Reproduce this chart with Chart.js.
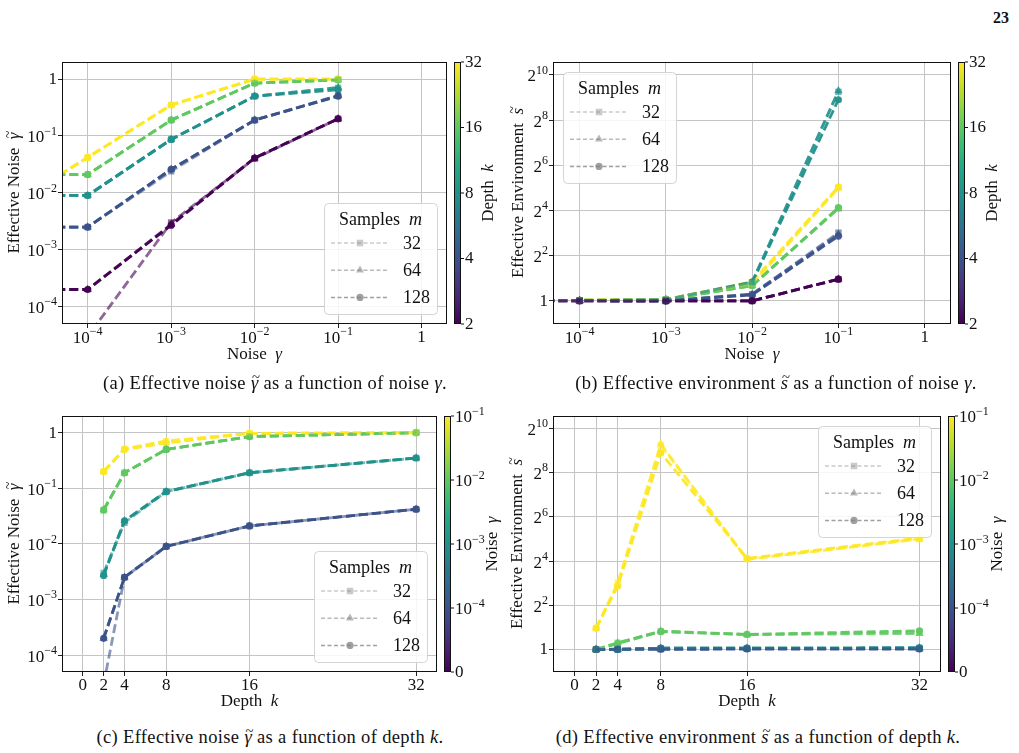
<!DOCTYPE html>
<html><head><meta charset="utf-8">
<script src="https://cdn.jsdelivr.net/npm/chart.js@4.4.1/dist/chart.umd.min.js"></script>
<style>
html,body{margin:0;padding:0;background:#fff;}
body{width:1019px;height:753px;position:relative;overflow:hidden;font-family:"Liberation Serif","DejaVu Serif",serif;color:#111;}
canvas{position:absolute;}
.cap{position:absolute;font-size:18.5px;letter-spacing:0.35px;white-space:nowrap;transform:translate(-50%,-50%);}
.tl{position:relative;font-style:italic;}
.tl::after{content:"~";position:absolute;left:0.08em;top:-0.3em;font-size:0.8em;font-style:normal;}
#pg{position:absolute;left:993px;top:9px;font-weight:bold;font-size:16px;}
</style></head><body>
<div id="pg">23</div>
<canvas id="ca" width="505" height="330" style="left:0;top:40px"></canvas>
<canvas id="cb" width="514" height="330" style="left:505px;top:40px"></canvas>
<canvas id="cc" width="505" height="315" style="left:0;top:400px"></canvas>
<canvas id="cd" width="514" height="315" style="left:505px;top:400px"></canvas>
<div class="cap" style="left:275px;top:383px">(a) Effective noise <span class="tl">γ</span> as a function of noise <i>γ</i>.</div>
<div class="cap" style="left:776px;top:383px">(b) Effective environment <span class="tl">s</span> as a function of noise <i>γ</i>.</div>
<div class="cap" style="left:270px;top:737px">(c) Effective noise <span class="tl">γ</span> as a function of depth <i>k</i>.</div>
<div class="cap" style="left:758px;top:737px">(d) Effective environment <span class="tl">s</span> as a function of depth <i>k</i>.</div>
<script>
// ---------------- data ----------------
const ks = [2, 4, 8, 16, 32];                    // depth k
const samples = [32, 64, 128];                   // samples m
// noise levels; first entry = noise-free run, drawn one decade left of 1e-4 (outside the axis range)
const noiseLevels = [1e-5, 1e-4, 1e-3, 1e-2, 1e-1];
const noiseTicks = [1e-4, 1e-3, 1e-2, 1e-1, 1];
const depthTicks = [0, 2, 4, 8, 16, 32];
const effNoiseTicks = [1e-4, 1e-3, 1e-2, 1e-1, 1];
const effEnvTicks = [1, 4, 16, 64, 256, 1024];
const depthBarTicks = [2, 4, 8, 16, 32];
const noiseBarTicks = [0, 1, 2, 3, 4];            // colour-bar positions
const noiseBarValues = [0, 1e-4, 1e-3, 1e-2, 1e-1]; // colour-bar tick labels

// effective noise (rows: k = 2,4,8,16,32 ; columns: noiseLevels)
const effNoise_m32 = [
  [3e-5, 3e-5, 0.0030, 0.040, 0.20],
  [0.0025, 0.0025, 0.024, 0.19, 0.51],
  [0.009, 0.009, 0.087, 0.50, 0.70],
  [0.021, 0.021, 0.19, 0.85, 0.97],
  [0.0052, 0.042, 0.35, 1.0, 1.0]];
const effNoise_m64 = [
  [2e-4, 2e-4, 0.0028, 0.041, 0.20],
  [0.0025, 0.0025, 0.026, 0.19, 0.51],
  [0.009, 0.009, 0.087, 0.50, 0.71],
  [0.021, 0.021, 0.19, 0.85, 0.97],
  [0.0052, 0.042, 0.35, 1.0, 1.0]];
const effNoise_m128 = [
  [2e-4, 2e-4, 0.0027, 0.041, 0.20],
  [0.0025, 0.0025, 0.026, 0.19, 0.50],
  [0.009, 0.009, 0.087, 0.50, 0.65],
  [0.021, 0.021, 0.19, 0.85, 0.97],
  [0.0052, 0.042, 0.35, 1.0, 1.0]];

// effective environment (rows: k ; columns: noiseLevels)
const effEnv_m32 = [
  [1, 1, 1.0, 1.0, 1.95],
  [1, 1.01, 1.0, 1.23, 8.1],
  [1, 1.01, 1.04, 1.78, 609],
  [1, 1.02, 1.04, 1.6, 17],
  [1, 1.02, 1.05, 1.72, 32]];
const effEnv_m64 = [
  [1, 1, 1.0, 1.0, 1.95],
  [1, 1.01, 1.0, 1.23, 7.7],
  [1, 1.01, 1.04, 1.78, 630],
  [1, 1.02, 1.04, 1.6, 17],
  [1, 1.02, 1.05, 1.65, 32]];
const effEnv_m128 = [
  [1, 1, 1.0, 1.0, 1.95],
  [1, 1.01, 1.0, 1.2, 7.3],
  [1, 1.01, 1.04, 1.75, 478],
  [1, 1.02, 1.04, 1.6, 17.5],
  [1, 1.02, 1.05, 1.8, 33]];

const effNoiseBySample = [effNoise_m32, effNoise_m64, effNoise_m128];
const effEnvBySample = [effEnv_m32, effEnv_m64, effEnv_m128];

// ---------------- styling helpers ----------------
const FONT = '"Liberation Serif", "DejaVu Serif", serif';
Chart.defaults.font.family = FONT;
Chart.defaults.font.size = 17;
Chart.defaults.color = '#111';

const VIR = ['#440154','#482475','#414487','#355f8d','#2a788e','#21918c','#22a884','#44bf70','#7ad151','#bddf26','#fde725'];
function hex(h){ return [1,3,5].map(i => parseInt(h.substr(i,2),16)); }
function viridis(t){
  t = Math.max(0, Math.min(1, t));
  const p = t*10, i = Math.min(9, Math.floor(p)), f = p - i;
  const a = hex(VIR[i]), b = hex(VIR[i+1]);
  return a.map((v,j) => Math.round(v + (b[j]-v)*f));
}
function rgba(c, a){ return `rgba(${c[0]},${c[1]},${c[2]},${a})`; }

const markerStyle = ['rect', 'triangle', 'circle'];
const markerRadius = [4.6, 4.8, 3.6];
const lineAlpha = [0.6, 0.8, 0.95];
const legendAlpha = [0.42, 0.55, 0.75];

const minus = n => (n < 0 ? '\u2212' + Math.abs(n) : String(n));
const pow10Segs = v => { const e = Math.round(Math.log10(v)); return e === 0 ? [{t:'1'}] : [{t:'10'},{t:minus(e), sup:true}]; };
const pow2Segs = v => { const e = Math.round(Math.log2(v)); return e === 0 ? [{t:'1'}] : [{t:'2'},{t:minus(e), sup:true}]; };
const plainSegs = v => [{t:String(v)}];
const noiseBarSegs = v => v === 0 ? [{t:'0'}] : pow10Segs(v);

const segFont = (s, size) => (s.i ? 'italic ' : '') + (s.sup ? Math.round(size*0.7) : size) + 'px ' + FONT;
function drawRich(ctx, segs, x, y, size, align){
  let w = 0;
  const widths = segs.map(s => { ctx.font = segFont(s, size); const m = ctx.measureText(s.t).width; w += m; return m; });
  let cx = align === 'right' ? x - w : (align === 'left' ? x : x - w/2);
  ctx.textAlign = 'left'; ctx.textBaseline = 'middle'; ctx.fillStyle = '#111';
  segs.forEach((s, i) => {
    ctx.font = segFont(s, size);
    const yy = s.sup ? y - size*0.38 : y;
    ctx.fillText(s.t, cx, yy);
    if (s.tilde){
      ctx.font = Math.round(size*0.8) + 'px ' + FONT;
      ctx.textAlign = 'center';
      ctx.fillText('~', cx + widths[i]/2 + size*0.08, y - size*0.33);
      ctx.textAlign = 'left';
    }
    cx += widths[i];
  });
}

function drawMarker(ctx, style, x, y, r){
  ctx.beginPath();
  if (style === 'circle'){ ctx.arc(x, y, r, 0, Math.PI*2); }
  else if (style === 'rect'){ const s = r*Math.SQRT1_2; ctx.rect(x-s, y-s, 2*s, 2*s); }
  else { const h = r*1.5, w = r*Math.sqrt(3); ctx.moveTo(x, y - r); ctx.lineTo(x + w/2, y + h - r); ctx.lineTo(x - w/2, y + h - r); ctx.closePath(); }
  ctx.fill();
}

function drawLegend(ctx, ca, corner){
  const w = 113, h = 111, ins = 10;
  const x = corner.includes('right') ? ca.right - ins - w : ca.left + ins;
  const y = corner.includes('lower') ? ca.bottom - ins - h : ca.top + ins;
  ctx.save();
  ctx.beginPath();
  if (ctx.roundRect) ctx.roundRect(x+0.5, y+0.5, w, h, 4); else ctx.rect(x+0.5, y+0.5, w, h);
  ctx.fillStyle = 'rgba(255,255,255,0.85)'; ctx.fill();
  ctx.strokeStyle = '#d4d4d4'; ctx.lineWidth = 1; ctx.stroke();
  drawRich(ctx, [{t:'Samples  '},{t:'m', i:true}], x + w/2, y + 17, 18);
  samples.forEach((m, i) => {
    const ry = y + 40 + i*27.2;
    const col = `rgba(128,128,128,${legendAlpha[i]})`;
    ctx.strokeStyle = col; ctx.lineWidth = 1.5; ctx.setLineDash([4, 2.5]);
    ctx.beginPath(); ctx.moveTo(x + 7, ry); ctx.lineTo(x + 64, ry); ctx.stroke();
    ctx.setLineDash([]);
    ctx.fillStyle = col;
    drawMarker(ctx, markerStyle[i], x + 36, ry, i === 2 ? 3.6 : 4.6);
    drawRich(ctx, [{t:String(m)}], x + 79, ry + 1, 18, 'left');
  });
  ctx.restore();
}

function buildPanel(id, P){
  const canvas = document.getElementById(id);
  const panelPlugin = {
    id: 'panel_' + id,
    afterDatasetsDraw(chart){
      const ctx = chart.ctx, ca = chart.chartArea;
      ctx.save();
      ctx.strokeStyle = '#111'; ctx.lineWidth = 1;
      ctx.strokeRect(Math.round(ca.left)+0.5, Math.round(ca.top)+0.5, Math.round(ca.right-ca.left)-1, Math.round(ca.bottom-ca.top)-1);
      ctx.restore();
    },
    afterDraw(chart){
      const ctx = chart.ctx, ca = chart.chartArea;
      const xs = chart.scales.x, ys = chart.scales.y;
      ctx.save();
      // tick labels
      xs.ticks.forEach(t => {
        const segs = P.xFmt(t.value);
        drawRich(ctx, segs, xs.getPixelForValue(t.value), ca.bottom + (segs.length > 1 ? 14.5 : 13.5), 17, 'center');
      });
      ys.ticks.forEach(t => {
        const segs = P.yFmt(t.value);
        drawRich(ctx, segs, ca.left - 5, ys.getPixelForValue(t.value) + (segs.length > 1 ? 2 : 0.5), 17, 'right');
      });
      // axis titles
      drawRich(ctx, P.xTitle, (ca.left + ca.right)/2, ca.bottom + P.xTitleOff, 17);
      ctx.translate(ca.left - P.yTitleOff, (ca.top + ca.bottom)/2);
      ctx.rotate(-Math.PI/2);
      drawRich(ctx, P.yTitle, 0, 0, 17);
      ctx.restore();
      drawLegend(ctx, ca, P.legendCorner);
      // colour bar
      const cb = chart.scales.cb;
      const x0 = Math.round(ca.right + P.cbGap), w = 7;
      const top = Math.round(cb.top), bot = Math.round(cb.bottom);
      ctx.save();
      const g = ctx.createLinearGradient(0, bot, 0, top);
      for (let i = 0; i <= 20; i++){ g.addColorStop(i/20, rgba(viridis(i/20), 1)); }
      ctx.fillStyle = g; ctx.fillRect(x0, top, w, bot - top);
      ctx.strokeStyle = '#111'; ctx.lineWidth = 1; ctx.strokeRect(x0 + 0.5, top + 0.5, w - 1, bot - top - 1);
      P.cbTicks.forEach((v, i) => {
        const py = cb.getPixelForValue(v);
        ctx.beginPath(); ctx.moveTo(x0 + w, py); ctx.lineTo(x0 + w + 3, py); ctx.stroke();
        const segs = P.cbFmt(P.cbLabelValues[i]);
        drawRich(ctx, segs, x0 + w + 4, py + (segs.length > 1 ? 2 : 0.5), 17, 'left');
      });
      ctx.translate(ca.right + P.cbTitleOff, (top + bot)/2);
      ctx.rotate(-Math.PI/2);
      drawRich(ctx, P.cbTitle, 0, 0, 17);
      ctx.restore();
    }
  };
  const grid = { color:'#c4c4c4', lineWidth:1, tickColor:'#222', tickLength:4, tickWidth:1 };
  return new Chart(canvas, {
    type: 'line',
    data: { datasets: P.datasets },
    options: {
      responsive: false, animation: false, devicePixelRatio: 1,
      layout: { padding: { left: 0, top: P.area.top, right: P.area.right, bottom: 0 } },
      plugins: { legend: { display: false }, tooltip: { enabled: false } },
      scales: {
        x: { type: P.xType, min: P.xMin, max: P.xMax, position: 'bottom',
             afterBuildTicks: s => { s.ticks = P.xTicks.map(v => ({ value: v })); },
             afterFit: s => { s.height = P.area.bottom; },
             ticks: { display: false, autoSkip: false, maxRotation: 0 },
             grid: grid, border: { display: false } },
        y: { type: 'logarithmic', min: P.yMin, max: P.yMax, position: 'left',
             afterBuildTicks: s => { s.ticks = P.yTicks.map(v => ({ value: v })); },
             afterFit: s => { s.width = P.area.left; },
             ticks: { display: false, autoSkip: false },
             grid: grid, border: { display: false } },
        cb: { type: P.cbType, axis: 'y', position: 'right', display: false, min: P.cbMin, max: P.cbMax }
      }
    },
    plugins: [panelPlugin]
  });
}

function lineDataset(points, color, mi){
  return {
    data: points,
    borderColor: rgba(color, lineAlpha[mi]),
    backgroundColor: rgba(color, lineAlpha[mi]),
    pointBackgroundColor: rgba(color, lineAlpha[mi]),
    pointBorderWidth: 0,
    borderWidth: 2.8,
    borderDash: [9, 4],
    pointStyle: markerStyle[mi],
    pointRadius: markerRadius[mi],
    tension: 0
  };
}

const depthColor = k => viridis(Math.log2(k/2)/4);
const noiseColor = gi => viridis(gi/4);   // gi = index in noiseLevels (1..4)

function byNoiseDatasets(tables){
  const out = [];
  samples.forEach((m, mi) => ks.forEach((k, ki) => {
    out.push(lineDataset(noiseLevels.map((g, gi) => ({ x: g, y: tables[mi][ki][gi] })), depthColor(k), mi));
  }));
  return out;
}
function byDepthDatasets(tables){
  const out = [];
  samples.forEach((m, mi) => [1,2,3,4].forEach(gi => {
    out.push(lineDataset(ks.map((k, ki) => ({ x: k, y: tables[mi][ki][gi] })), noiseColor(gi), mi));
  }));
  return out;
}

const depthBar = { cbType: 'logarithmic', cbMin: 2, cbMax: 32, cbTicks: depthBarTicks, cbLabelValues: depthBarTicks, cbFmt: plainSegs,
                   cbTitle: [{t:'Depth  '},{t:'k', i:true}] };
const noiseBar = { cbType: 'linear', cbMin: 0, cbMax: 4, cbTicks: noiseBarTicks, cbLabelValues: noiseBarValues, cbFmt: noiseBarSegs,
                   cbTitle: [{t:'Noise  '},{t:'γ', i:true}] };
const effNoiseY = { yMin: Math.pow(10, -4.305), yMax: Math.pow(10, 0.3), yTicks: effNoiseTicks, yFmt: pow10Segs,
                    yTitle: [{t:'Effective Noise  '},{t:'γ', i:true, tilde:true}] };
const effEnvY = { yMin: Math.pow(2, -1.02), yMax: Math.pow(2, 10.57), yTicks: effEnvTicks, yFmt: pow2Segs,
                  yTitle: [{t:'Effective Environment  '},{t:'s', i:true, tilde:true}] };
const noiseX = { xType: 'logarithmic', xMin: Math.pow(10, -4.308), xMax: Math.pow(10, 0.305), xTicks: noiseTicks, xFmt: pow10Segs,
                 xTitle: [{t:'Noise  '},{t:'γ', i:true}], xTitleOff: 31 };
const depthX = { xType: 'linear', xMin: -2, xMax: 34, xTicks: depthTicks, xFmt: plainSegs,
                 xTitle: [{t:'Depth  '},{t:'k', i:true}], xTitleOff: 29.5 };

buildPanel('ca', Object.assign({}, noiseX, effNoiseY, depthBar, {
  area: { left: 62, top: 22, right: 58, bottom: 46 }, yTitleOff: 47, cbGap: 6.5, cbTitleOff: 41.5,
  legendCorner: 'lower right', datasets: byNoiseDatasets(effNoiseBySample) }));
buildPanel('cb', Object.assign({}, noiseX, effEnvY, depthBar, {
  area: { left: 48, top: 22, right: 68, bottom: 46 }, yTitleOff: 34, cbGap: 6.5, cbTitleOff: 42,
  legendCorner: 'upper left', datasets: byNoiseDatasets(effEnvBySample) }));
buildPanel('cc', Object.assign({}, depthX, effNoiseY, noiseBar, {
  area: { left: 62, top: 16, right: 68, bottom: 43 }, yTitleOff: 47, cbGap: 6.5, cbTitleOff: 56,
  legendCorner: 'lower right', datasets: byDepthDatasets(effNoiseBySample) }));
buildPanel('cd', Object.assign({}, depthX, effEnvY, noiseBar, {
  area: { left: 48, top: 16, right: 78, bottom: 43 }, yTitleOff: 35, cbGap: 6.5, cbTitleOff: 57,
  legendCorner: 'upper right', datasets: byDepthDatasets(effEnvBySample) }));
</script>
</body></html>
